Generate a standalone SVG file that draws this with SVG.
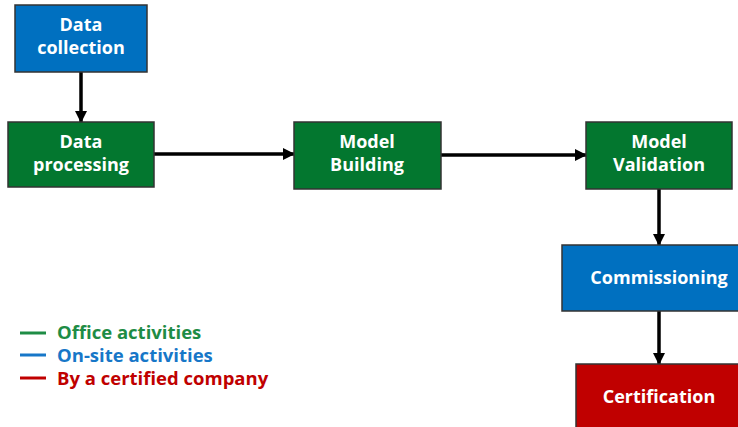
<svg xmlns="http://www.w3.org/2000/svg" width="738" height="427" viewBox="0 0 738 427">
<defs>
<marker id="ah" markerWidth="12" markerHeight="12" refX="11" refY="6" orient="auto" markerUnits="userSpaceOnUse" viewBox="0 0 12 12">
<path d="M0,0 L12,6 L0,12 z" fill="#000"/>
</marker>
<style>
.box{stroke:#333;stroke-width:1.5}
.blue{fill:#0070C0}
.green{fill:#03772F}
.red{fill:#C00000}
.t{font-family:"Open Sans","Liberation Sans",sans-serif;font-weight:bold;font-size:18px;fill:#fff;text-anchor:middle}
.conn{stroke:#000;stroke-width:3.5;fill:none}
.lg{font-family:"Open Sans","Liberation Sans",sans-serif;font-weight:bold;font-size:18.5px}
</style>
</defs>
<rect width="738" height="427" fill="#fff"/>
<g id="connectors">
<line class="conn" x1="81" y1="72" x2="81" y2="122" marker-end="url(#ah)"/>
<line class="conn" x1="154" y1="154" x2="294" y2="154" marker-end="url(#ah)"/>
<line class="conn" x1="441" y1="155" x2="586" y2="155" marker-end="url(#ah)"/>
<line class="conn" x1="659" y1="189" x2="659" y2="245" marker-end="url(#ah)"/>
<line class="conn" x1="659" y1="311" x2="659" y2="364" marker-end="url(#ah)"/>
</g>
<g id="data-collection">
<rect class="box blue" x="15" y="5" width="132" height="67"/>
<text class="t" x="81" y="31">Data</text>
<text class="t" x="81" y="54">collection</text>
</g>
<g id="data-processing">
<rect class="box green" x="8" y="122" width="146" height="65"/>
<text class="t" x="81" y="148">Data</text>
<text class="t" x="81" y="171">processing</text>
</g>
<g id="model-building">
<rect class="box green" x="294" y="122" width="147" height="67"/>
<text class="t" x="367" y="148">Model</text>
<text class="t" x="367" y="171">Building</text>
</g>
<g id="model-validation">
<rect class="box green" x="586" y="122" width="146" height="67"/>
<text class="t" x="659" y="148">Model</text>
<text class="t" x="659" y="171">Validation</text>
</g>
<g id="commissioning">
<rect class="box blue" x="562" y="245" width="194" height="66"/>
<text class="t" x="659" y="284">Commissioning</text>
</g>
<g id="certification">
<rect class="box red" x="576" y="364" width="180" height="70"/>
<text class="t" x="659" y="403">Certification</text>
</g>
<g id="legend">
<line x1="20" y1="333" x2="46" y2="333" stroke="#1E8C45" stroke-width="3"/>
<text class="lg" x="57" y="339" fill="#1E8C45">Office activities</text>
<line x1="20" y1="355" x2="46" y2="355" stroke="#1777C8" stroke-width="3"/>
<text class="lg" x="57" y="362" fill="#1777C8">On-site activities</text>
<line x1="20" y1="378" x2="46" y2="378" stroke="#C00000" stroke-width="3"/>
<text class="lg" x="57" y="385" fill="#C00000">By a certified company</text>
</g>
</svg>
